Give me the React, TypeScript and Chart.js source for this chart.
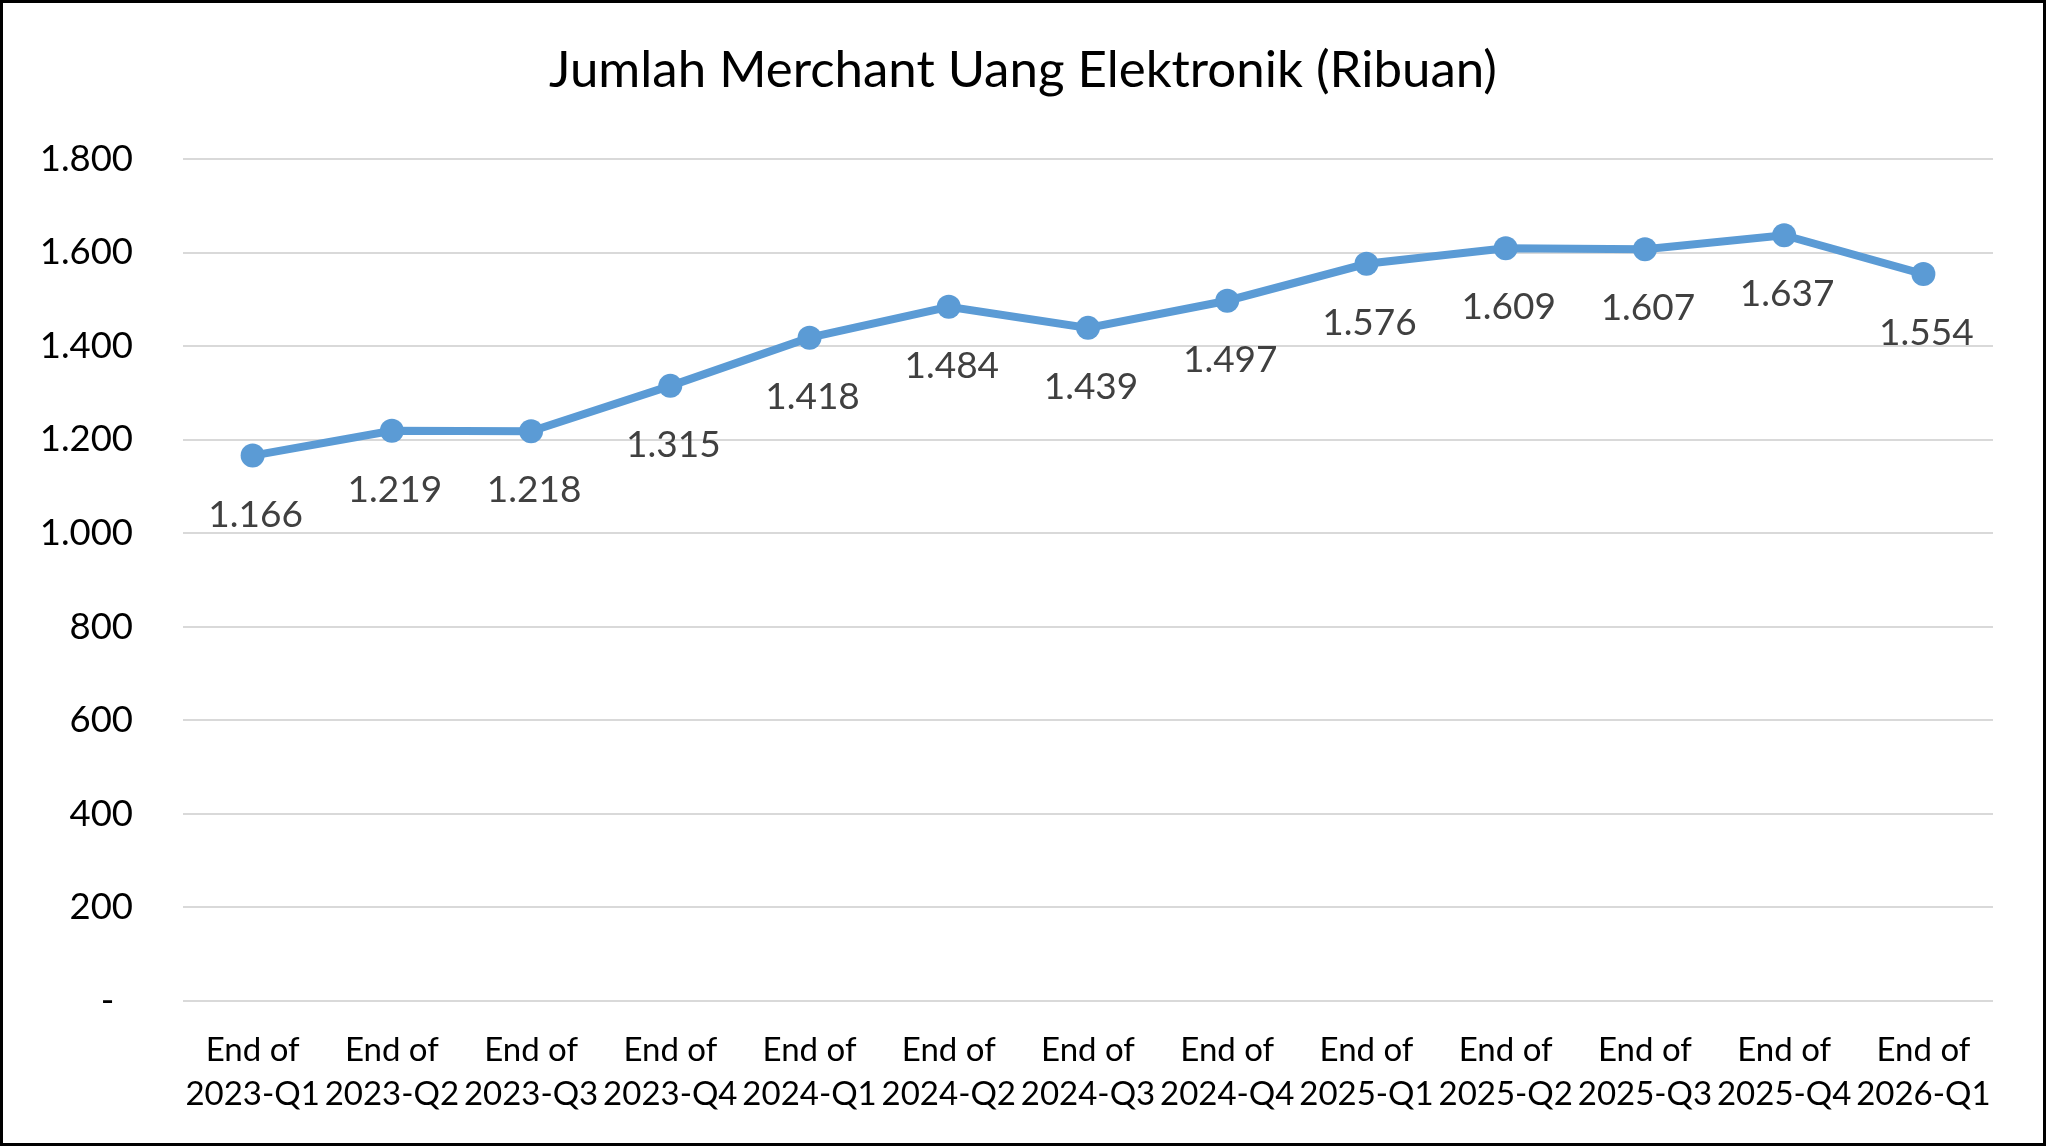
import React, { useEffect, useRef } from "react";
import { Chart, registerables } from "chart.js";

Chart.register(...registerables);

const categories: string[][] = [
  ["End of", "2023-Q1"],
  ["End of", "2023-Q2"],
  ["End of", "2023-Q3"],
  ["End of", "2023-Q4"],
  ["End of", "2024-Q1"],
  ["End of", "2024-Q2"],
  ["End of", "2024-Q3"],
  ["End of", "2024-Q4"],
  ["End of", "2025-Q1"],
  ["End of", "2025-Q2"],
  ["End of", "2025-Q3"],
  ["End of", "2025-Q4"],
  ["End of", "2026-Q1"],
];

const merchantValues: number[] = [1166, 1219, 1218, 1315, 1418, 1484, 1439, 1497, 1576, 1609, 1607, 1637, 1554];

const yMin = 0;
const yMax = 1800;
const yStep = 200;

const titleText = "Jumlah Merchant Uang Elektronik (Ribuan)";

const FONT = "Lato, 'Open Sans', sans-serif";

function fmt(v: number): string {
  if (v === 0) return "-  ";
  return String(Math.round(v)).replace(/\B(?=(\d{3})+(?!\d))/g, ".");
}

const dataLabelPlugin = {
  id: "dataLabels",
  afterDatasetsDraw(chart: any) {
    const ctx = chart.ctx;
    const meta = chart.getDatasetMeta(0);
    const data = chart.data.datasets[0].data as number[];
    ctx.save();
    ctx.font = `37px ${FONT}`;
    ctx.fillStyle = "#404040";
    ctx.textAlign = "center";
    ctx.textBaseline = "middle";
    meta.data.forEach((pt: any, i: number) => {
      ctx.fillText(fmt(data[i]), pt.x + 3, pt.y + 59);
    });
    ctx.restore();
  },
};

const titleAndBorderPlugin = {
  id: "titleAndBorder",
  afterDraw(chart: any) {
    const ctx = chart.ctx;
    ctx.save();
    ctx.font = `51px ${FONT}`;
    ctx.fillStyle = "#000000";
    ctx.textAlign = "center";
    ctx.textBaseline = "middle";
    ctx.fillText(titleText, chart.width / 2, 71);
    ctx.strokeStyle = "#000000";
    ctx.lineWidth = 3;
    ctx.strokeRect(1.5, 1.5, chart.width - 3, chart.height - 3);
    ctx.restore();
  },
};

export default function App() {
  const ref = useRef<HTMLCanvasElement | null>(null);

  useEffect(() => {
    if (!ref.current) return;
    const chart = new Chart(ref.current, {
      type: "line",
      data: {
        labels: categories,
        datasets: [
          {
            label: "Merchant",
            data: merchantValues,
            borderColor: "#5B9BD5",
            backgroundColor: "#5B9BD5",
            borderWidth: 8,
            pointRadius: 12,
            pointHoverRadius: 12,
            pointBackgroundColor: "#5B9BD5",
            pointBorderColor: "#5B9BD5",
            pointBorderWidth: 0,
            tension: 0,
          },
        ],
      },
      options: {
        animation: false,
        responsive: false,
        maintainAspectRatio: false,
        layout: { padding: { top: 159, left: 0, right: 53, bottom: 0 } },
        plugins: {
          legend: { display: false },
          tooltip: { enabled: false },
          title: { display: false },
        },
        scales: {
          x: {
            type: "category",
            offset: true,
            grid: { display: false, drawTicks: false },
            border: { display: false },
            ticks: {
              color: "#000000",
              font: { family: FONT, size: 33, lineHeight: 1.32 },
              padding: 28,
              maxRotation: 0,
              autoSkip: false,
            },
            afterFit(scale: any) {
              scale.height = 145;
            },
          },
          y: {
            min: yMin,
            max: yMax,
            grid: { color: "#D9D9D9", lineWidth: 2, drawTicks: false },
            border: { display: false },
            ticks: {
              stepSize: yStep,
              color: "#000000",
              font: { family: FONT, size: 36.5 },
              padding: 50,
              callback: (v: any) => fmt(Number(v)),
            },
            afterFit(scale: any) {
              scale.width = 183;
            },
          },
        },
      },
      plugins: [dataLabelPlugin, titleAndBorderPlugin],
    });
    return () => chart.destroy();
  }, []);

  return (
    <div style={{ position: "absolute", left: 0, top: 0, width: 2046, height: 1146, background: "#ffffff" }}>
      <canvas ref={ref} width={2046} height={1146} style={{ width: 2046, height: 1146, display: "block" }} />
    </div>
  );
}
